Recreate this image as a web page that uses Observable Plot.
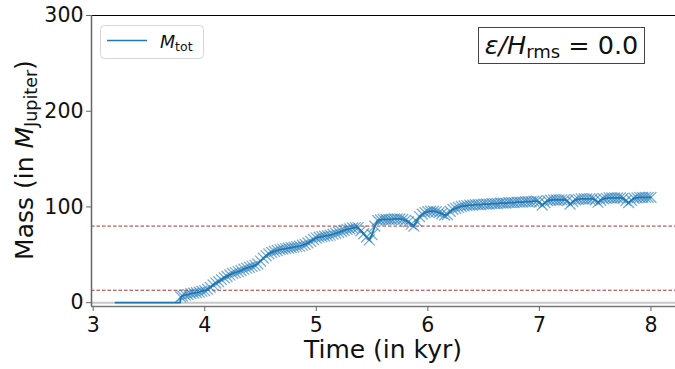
<!DOCTYPE html>
<html>
<head>
<meta charset="utf-8">
<script src="https://cdn.jsdelivr.net/npm/d3@7"></script>
<script src="https://cdn.jsdelivr.net/npm/@observablehq/plot@0.6"></script>
<style>
  html, body { margin: 0; padding: 0; background: white; }
  svg { font-family: "DejaVu Sans", sans-serif; }
</style>
</head>
<body>
<div id="chart"></div>
<script>
// Time (kyr) and total mass (M_Jupiter)
const times = [
  3.200, 3.780, 3.785,
  3.800, 3.825, 3.850, 3.875, 3.900, 3.925, 3.950, 3.975,
  4.000, 4.025, 4.050, 4.075, 4.100, 4.125, 4.150, 4.175, 4.200, 4.225, 4.250, 4.275, 4.300, 4.325, 4.350, 4.375, 4.400, 4.425, 4.450, 4.475,
  4.500, 4.525, 4.550, 4.575, 4.600, 4.625, 4.650, 4.675, 4.700, 4.725, 4.750, 4.775, 4.800, 4.825, 4.850, 4.875, 4.900, 4.925, 4.950, 4.975,
  5.000, 5.025, 5.050, 5.075, 5.100, 5.125, 5.150, 5.175, 5.200, 5.225, 5.250, 5.275, 5.300, 5.325, 5.350, 5.375, 5.400, 5.425, 5.450, 5.475,
  5.500, 5.525, 5.550, 5.575, 5.600, 5.625, 5.650, 5.675, 5.700, 5.725, 5.750, 5.775, 5.800, 5.825, 5.850, 5.875, 5.900, 5.925, 5.950, 5.975,
  6.000, 6.025, 6.050, 6.075, 6.100, 6.125, 6.150, 6.175, 6.200, 6.225, 6.250, 6.275, 6.300, 6.325, 6.350, 6.375, 6.400, 6.425, 6.450, 6.475,
  6.500, 6.525, 6.550, 6.575, 6.600, 6.625, 6.650, 6.675, 6.700, 6.725, 6.750, 6.775, 6.800, 6.825, 6.850, 6.875, 6.900, 6.925, 6.950, 6.975,
  7.000, 7.025, 7.050, 7.075, 7.100, 7.125, 7.150, 7.175, 7.200, 7.225, 7.250, 7.275, 7.300, 7.325, 7.350, 7.375, 7.400, 7.425, 7.450, 7.475,
  7.500, 7.525, 7.550, 7.575, 7.600, 7.625, 7.650, 7.675, 7.700, 7.725, 7.750, 7.775, 7.800, 7.825, 7.850, 7.875, 7.900, 7.925, 7.950, 7.975,
  8.000
];
const masses = [
  0, 0, 6,
  7, 8, 8.5, 9.5, 10, 10.5, 11, 12,
  12.5, 14, 16, 18.5, 20.5, 22, 24, 26, 27.5, 29, 30.5, 31.5, 32.5, 33.5, 35, 36, 37, 38, 39, 40.5,
  43.5, 46.5, 49, 51, 52.5, 53.5, 54.5, 55.5, 56, 56.5, 57, 57.5, 58, 58.5, 59, 60, 61, 62.5, 64, 66,
  67.5, 68.5, 69, 69.5, 70, 70.5, 71.5, 72.5, 73.5, 74.5, 75.5, 76.5, 77, 78, 78.5, 78.5, 75, 72, 68.5, 65.5,
  71, 80, 86, 86.5, 87, 87, 87, 87, 87.5, 87.5, 87.5, 87, 86, 84.5, 82, 80, 85, 90, 92.5, 94,
  95, 95.5, 95.5, 95, 94, 93, 91.5, 92, 95.5, 97.5, 98.5, 99.5, 100.5, 101, 101.5, 102, 102, 102.5, 102.5, 102.5,
  103, 103, 103, 103.5, 103.5, 103.5, 104, 104, 104, 104.5, 104.5, 104.5, 105, 105, 105, 105.5, 105.5, 105.5, 106, 106,
  105, 102, 104.5, 106.5, 107, 107.5, 107.5, 107.5, 107.5, 107.5, 106.5, 103, 105.5, 107.5, 108, 108.5, 108.5, 108.5, 108.5, 108.5,
  107.5, 105, 107, 108.5, 109, 109.5, 109.5, 109.5, 109.5, 109.5, 109, 106.5, 104.5, 107, 109, 109.5, 110, 110, 110, 110,
  110
];
const markerStart = 3.785;          // markers drawn from the jump onwards
const limits = [13, 80];            // dashed reference masses
const xDomain = [2.985, 8.22];
const yDomain = [-4, 300];
const xTicks = [3, 4, 5, 6, 7, 8];
const yTicks = [0, 100, 200, 300];

const data = times.map((t, i) => ({t, m: masses[i]}));
const markerData = data.filter(d => d.t >= markerStart);
const blue = "#1f77b4";

const plot = Plot.plot({
  width: 675,
  height: 369,
  marginLeft: 91,
  marginRight: 0,
  marginTop: 15,
  marginBottom: 63,
  style: {fontFamily: "DejaVu Sans, sans-serif", background: "white"},
  x: {domain: xDomain, ticks: xTicks, label: null},
  y: {domain: yDomain, ticks: yTicks, label: null},
  marks: [
    Plot.ruleY([0], {stroke: "#c8c8c8", strokeWidth: 2}),
    Plot.ruleY(limits, {stroke: "#a83232", strokeWidth: 1, strokeDasharray: "3.5,2"}),
    Plot.dot(markerData, {x: "t", y: "m", symbol: "times", r: 5, stroke: blue, strokeOpacity: 0.6, strokeWidth: 1.3}),
    Plot.line(data, {x: "t", y: "m", stroke: blue, strokeWidth: 1.8}),
    Plot.ruleY([yDomain[1]], {stroke: "black", strokeWidth: 1.2}),
    Plot.ruleY([yDomain[0]], {stroke: "#777", strokeWidth: 1.5}),
    Plot.ruleX([xDomain[0]], {stroke: "#666", strokeWidth: 1.5}),
    Plot.axisX({ticks: xTicks, tickFormat: d3.format("d"), tickSize: 5, tickPadding: 6, fontSize: 20.5, stroke: "#666", fill: "#111", label: null}),
    Plot.axisY({ticks: yTicks, tickFormat: d3.format("d"), tickSize: 5, tickPadding: 3, fontSize: 20.5, stroke: "#666", fill: "#111", label: null})
  ]
});

document.getElementById("chart").appendChild(plot);

const svg = d3.select(plot);
const font = "DejaVu Sans, sans-serif";

// x label
svg.append("text")
  .attr("x", 383).attr("y", 358)
  .attr("text-anchor", "middle")
  .attr("font-size", 25).attr("fill", "#111").attr("font-family", font)
  .text("Time (in kyr)");

// y label
const yl = svg.append("text")
  .attr("transform", "translate(33,160) rotate(-90)")
  .attr("text-anchor", "middle")
  .attr("font-size", 25).attr("fill", "#111").attr("font-family", font);
yl.append("tspan").text("Mass (in ");
yl.append("tspan").attr("font-style", "italic").text("M");
yl.append("tspan").attr("font-size", 17.5).attr("dy", 4).text("Jupiter");
yl.append("tspan").attr("dy", -4).text(")");

// legend
const lg = svg.append("g");
lg.append("rect").attr("x", 100.5).attr("y", 25.5).attr("width", 103).attr("height", 33)
  .attr("rx", 4).attr("fill", "white").attr("fill-opacity", 0.8).attr("stroke", "#d6d6d6");
lg.append("line").attr("x1", 107).attr("x2", 147).attr("y1", 40.5).attr("y2", 40.5)
  .attr("stroke", blue).attr("stroke-width", 1.6);
const lt = lg.append("text").attr("x", 160).attr("y", 47.5)
  .attr("text-anchor", "start")
  .attr("font-size", 17.5).attr("fill", "#111").attr("font-family", font);
lt.append("tspan").attr("font-style", "italic").text("M");
lt.append("tspan").attr("font-size", 12.5).attr("dy", 3).text("tot");

// annotation box
const an = svg.append("g");
an.append("rect").attr("x", 478.5).attr("y", 27.5).attr("width", 166).attr("height", 36)
  .attr("fill", "white").attr("stroke", "#444").attr("stroke-width", 1);
const at = an.append("text").attr("x", 561.5).attr("y", 53.5)
  .attr("text-anchor", "middle")
  .attr("font-size", 25.5).attr("fill", "#111").attr("font-family", font);
at.append("tspan").attr("font-style", "italic").text("ε/H");
at.append("tspan").attr("font-size", 18).attr("dy", 4).text("rms");
at.append("tspan").attr("dy", -4).text(" = 0.0");
</script>
</body>
</html>
